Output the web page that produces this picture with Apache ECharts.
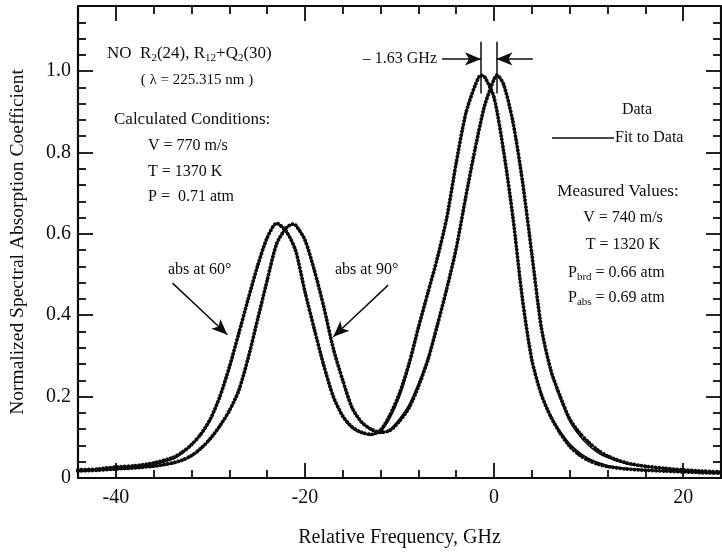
<!DOCTYPE html>
<html>
<head>
<meta charset="utf-8">
<script src="https://cdn.jsdelivr.net/npm/echarts@6/dist/echarts.min.js"></script>
<style>
  html, body { margin: 0; padding: 0; background: #fff; }
  #chart { width: 722px; height: 554px; }
</style>
</head>
<body>
<div id="chart"></div>
<script>
// abs at 60 deg: frequency (GHz), measured data and fit
const freq60 = [-44, -42, -40, -38, -36, -34, -33, -32, -31, -30, -29, -28, -27, -26, -25, -24, -23, -22, -21, -20,
  -19, -18, -17, -16, -15, -14, -13, -12, -11, -10, -9, -8, -7, -6, -5, -4, -3, -2, -1.4, -1,
  0, 1, 2, 3, 4, 5, 6, 7, 8, 9, 10, 11, 12, 14, 16, 18, 20, 22, 24];
const data60 = [0.02, 0.022, 0.027, 0.03, 0.037, 0.05, 0.063, 0.082, 0.108, 0.145, 0.2, 0.272, 0.355, 0.44, 0.522, 0.59, 0.626, 0.607, 0.56, 0.458,
  0.365, 0.276, 0.2, 0.152, 0.125, 0.112, 0.107, 0.118, 0.155, 0.208, 0.28, 0.37, 0.455, 0.54, 0.64, 0.775, 0.895, 0.965, 0.99, 0.986,
  0.935, 0.805, 0.64, 0.44, 0.29, 0.205, 0.15, 0.11, 0.078, 0.057, 0.043, 0.034, 0.028, 0.022, 0.019, 0.017, 0.015, 0.013, 0.012];
const fit60 = [0.018, 0.02, 0.023, 0.027, 0.033, 0.046, 0.06, 0.08, 0.106, 0.143, 0.198, 0.27, 0.354, 0.44, 0.522, 0.59, 0.625, 0.607, 0.56, 0.458,
  0.365, 0.276, 0.2, 0.15, 0.122, 0.11, 0.106, 0.114, 0.148, 0.2, 0.274, 0.366, 0.453, 0.54, 0.64, 0.775, 0.895, 0.965, 0.99, 0.986,
  0.935, 0.805, 0.64, 0.44, 0.292, 0.208, 0.154, 0.115, 0.084, 0.063, 0.048, 0.038, 0.031, 0.024, 0.02, 0.017, 0.015, 0.013, 0.012];

// abs at 90 deg
const freq90 = [-44, -42, -40, -38, -36, -34, -33, -32, -31, -30, -29, -28, -27, -26, -25, -24, -23, -22, -21.3, -21,
  -20, -19, -18, -17, -16, -15, -14, -13, -12, -11, -10, -9, -8, -7, -6, -5, -4, -3, -2, -1,
  0, 0.3, 1, 2, 3, 4, 5, 6, 7, 8, 9, 10, 11, 12, 14, 16, 18, 20, 22, 24];
const data90 = [0.017, 0.019, 0.022, 0.025, 0.029, 0.037, 0.044, 0.055, 0.073, 0.097, 0.128, 0.165, 0.215, 0.295, 0.39, 0.485, 0.575, 0.614, 0.624, 0.622,
  0.585, 0.51, 0.42, 0.318, 0.24, 0.172, 0.137, 0.12, 0.112, 0.117, 0.14, 0.172, 0.225, 0.29, 0.375, 0.465, 0.565, 0.69, 0.81, 0.915,
  0.98, 0.99, 0.968, 0.875, 0.73, 0.55, 0.37, 0.265, 0.2, 0.145, 0.112, 0.088, 0.068, 0.054, 0.037, 0.029, 0.024, 0.02, 0.017, 0.015];
const fit90 = [0.017, 0.019, 0.021, 0.024, 0.028, 0.035, 0.042, 0.053, 0.071, 0.095, 0.127, 0.165, 0.215, 0.295, 0.39, 0.485, 0.575, 0.614, 0.623, 0.621,
  0.585, 0.51, 0.42, 0.318, 0.238, 0.17, 0.136, 0.118, 0.11, 0.12, 0.145, 0.18, 0.232, 0.295, 0.378, 0.466, 0.565, 0.69, 0.81, 0.915,
  0.98, 0.99, 0.968, 0.875, 0.73, 0.55, 0.37, 0.262, 0.195, 0.14, 0.105, 0.08, 0.062, 0.05, 0.035, 0.028, 0.023, 0.019, 0.016, 0.014];

const xMajorTicks = [-40, -20, 0, 20];
const xMinorTicks = [-44, -36, -32, -28, -24, -16, -12, -8, -4, 4, 8, 12, 16, 24];
const yMajorTicks = [0, 0.2, 0.4, 0.6, 0.8, 1.0];
const yMinorTicks = [0.04, 0.08, 0.12, 0.16, 0.24, 0.28, 0.32, 0.36, 0.44, 0.48, 0.52, 0.56,
  0.64, 0.68, 0.72, 0.76, 0.84, 0.88, 0.92, 0.96, 1.04, 1.08, 1.12];

const FONT = '"Liberation Serif", "DejaVu Serif", serif';
const INK = '#0d0d0d';

const pts = (xs, ys) => xs.map((x, i) => [x, ys[i]]);

const chart = echarts.init(document.getElementById('chart'), null, { renderer: 'canvas' });

function xAx(pos, ticks, len, withLine, withLabel) {
  return {
    type: 'value', min: -44, max: 24, position: pos,
    axisLine: { show: withLine, onZero: false, lineStyle: { color: INK, width: 2.2 } },
    axisTick: { show: true, inside: true, length: len, customValues: ticks, lineStyle: { color: INK, width: 1.8 } },
    axisLabel: withLabel
      ? { customValues: ticks, fontFamily: FONT, fontSize: 20, color: INK, margin: 10 }
      : { show: false },
    splitLine: { show: false }
  };
}
function yAx(pos, ticks, len, withLine, withLabel) {
  return {
    type: 'value', min: 0, max: 1.16, position: pos,
    axisLine: { show: withLine, onZero: false, lineStyle: { color: INK, width: 2.2 } },
    axisTick: { show: true, inside: true, length: len, customValues: ticks, lineStyle: { color: INK, width: 1.8 } },
    axisLabel: withLabel
      ? { customValues: ticks, fontFamily: FONT, fontSize: 20, color: INK, margin: 7,
          formatter: v => (v === 0 ? '0' : v.toFixed(1)) }
      : { show: false },
    splitLine: { show: false }
  };
}

const xMain = xAx('bottom', xMajorTicks, 15, true, true);
xMain.name = 'Relative Frequency, GHz';
xMain.nameLocation = 'middle';
xMain.nameGap = 50;
xMain.nameTextStyle = { fontFamily: FONT, fontSize: 20, color: INK };

const yMain = yAx('left', yMajorTicks, 15, true, true);
yMain.name = 'Normalized Spectral Absorption Coefficient';
yMain.nameLocation = 'middle';
yMain.nameGap = 50;
yMain.nameTextStyle = { fontFamily: FONT, fontSize: 19.5, color: INK };

// data drawn as touching beads, fit as a thin solid line
const dotted = { color: INK, width: 3.8, type: [0.1, 3.5], cap: 'round' };
const solid = { color: INK, width: 1.5 };

// arrows and markers, in data coordinates
const arrow = (a, b) => [{ coord: a, symbol: 'none' }, { coord: b, symbol: 'arrow' }];
const bar = (a, b) => [{ coord: a, symbol: 'none' }, { coord: b, symbol: 'none' }];

const txt = (x, y, text, size, align) => ({
  type: 'text', x: x, y: y, silent: true,
  style: {
    text: text, fontFamily: FONT, fontSize: size, fill: INK,
    align: align || 'left', verticalAlign: 'middle', lineHeight: 20,
    rich: {
      s: { fontFamily: FONT, fontSize: 11, fill: INK, verticalAlign: 'bottom', lineHeight: 8 }
    }
  }
});

const option = {
  animation: false,
  backgroundColor: '#fff',
  grid: { left: 78, right: 1, top: 6, bottom: 76, containLabel: false },
  xAxis: [
    xMain,
    xAx('bottom', xMinorTicks, 8, false, false),
    xAx('top', xMajorTicks, 15, true, false),
    xAx('top', xMinorTicks, 8, false, false)
  ],
  yAxis: [
    yMain,
    yAx('left', yMinorTicks, 8, false, false),
    yAx('right', yMajorTicks, 15, true, false),
    yAx('right', yMinorTicks, 8, false, false)
  ],
  series: [
    { type: 'line', name: 'Fit 60', data: pts(freq60, fit60), smooth: 0.25, showSymbol: false, lineStyle: solid, z: 2,
      markLine: {
        silent: true, animation: false, label: { show: false }, symbolSize: [10, 16],
        lineStyle: { color: INK, width: 1.5, type: 'solid' },
        data: [
          arrow([-34.0, 0.479], [-28.2, 0.352]),
          arrow([-11.2, 0.474], [-17.0, 0.347]),
          arrow([-5.5, 1.03], [-1.38, 1.03]),
          arrow([4.1, 1.03], [0.25, 1.03]),
          bar([-1.38, 1.072], [-1.38, 0.945]),
          bar([0.25, 1.072], [0.25, 0.945])
        ]
      } },
    { type: 'line', name: 'Data 60', data: pts(freq60, data60), smooth: 0.25, showSymbol: false, lineStyle: dotted, z: 3 },
    { type: 'line', name: 'Fit 90', data: pts(freq90, fit90), smooth: 0.25, showSymbol: false, lineStyle: solid, z: 2 },
    { type: 'line', name: 'Data 90', data: pts(freq90, data90), smooth: 0.25, showSymbol: false, lineStyle: dotted, z: 3 }
  ],
  graphic: [
    txt(107, 54, 'NO  R{s|2}(24), R{s|12}+Q{s|2}(30)', 17),
    txt(197, 80, '( λ = 225.315 nm )', 15, 'center'),
    txt(114, 120, 'Calculated Conditions:', 17),
    txt(148, 146, 'V = 770 m/s', 16),
    txt(148, 172, 'T = 1370 K', 16),
    txt(148, 197, 'P =  0.71 atm', 16),
    txt(168, 270, 'abs at 60°', 16),
    txt(335, 270, 'abs at 90°', 16),
    txt(437, 59, '– 1.63 GHz', 16, 'right'),
    txt(637, 110, 'Data', 16, 'center'),
    { type: 'line', silent: true, shape: { x1: 552, y1: 138, x2: 614, y2: 138 }, style: { stroke: INK, lineWidth: 1.4 } },
    txt(615, 138, 'Fit to Data', 16),
    txt(618, 192, 'Measured Values:', 17, 'center'),
    txt(623, 218, 'V = 740 m/s', 16, 'center'),
    txt(623, 245, 'T = 1320 K', 16, 'center'),
    txt(568, 273, 'P{s|brd} = 0.66 atm', 16),
    txt(568, 298, 'P{s|abs} = 0.69 atm', 16)
  ]
};

chart.setOption(option);
window.addEventListener('resize', () => chart.resize());
</script>
</body>
</html>
